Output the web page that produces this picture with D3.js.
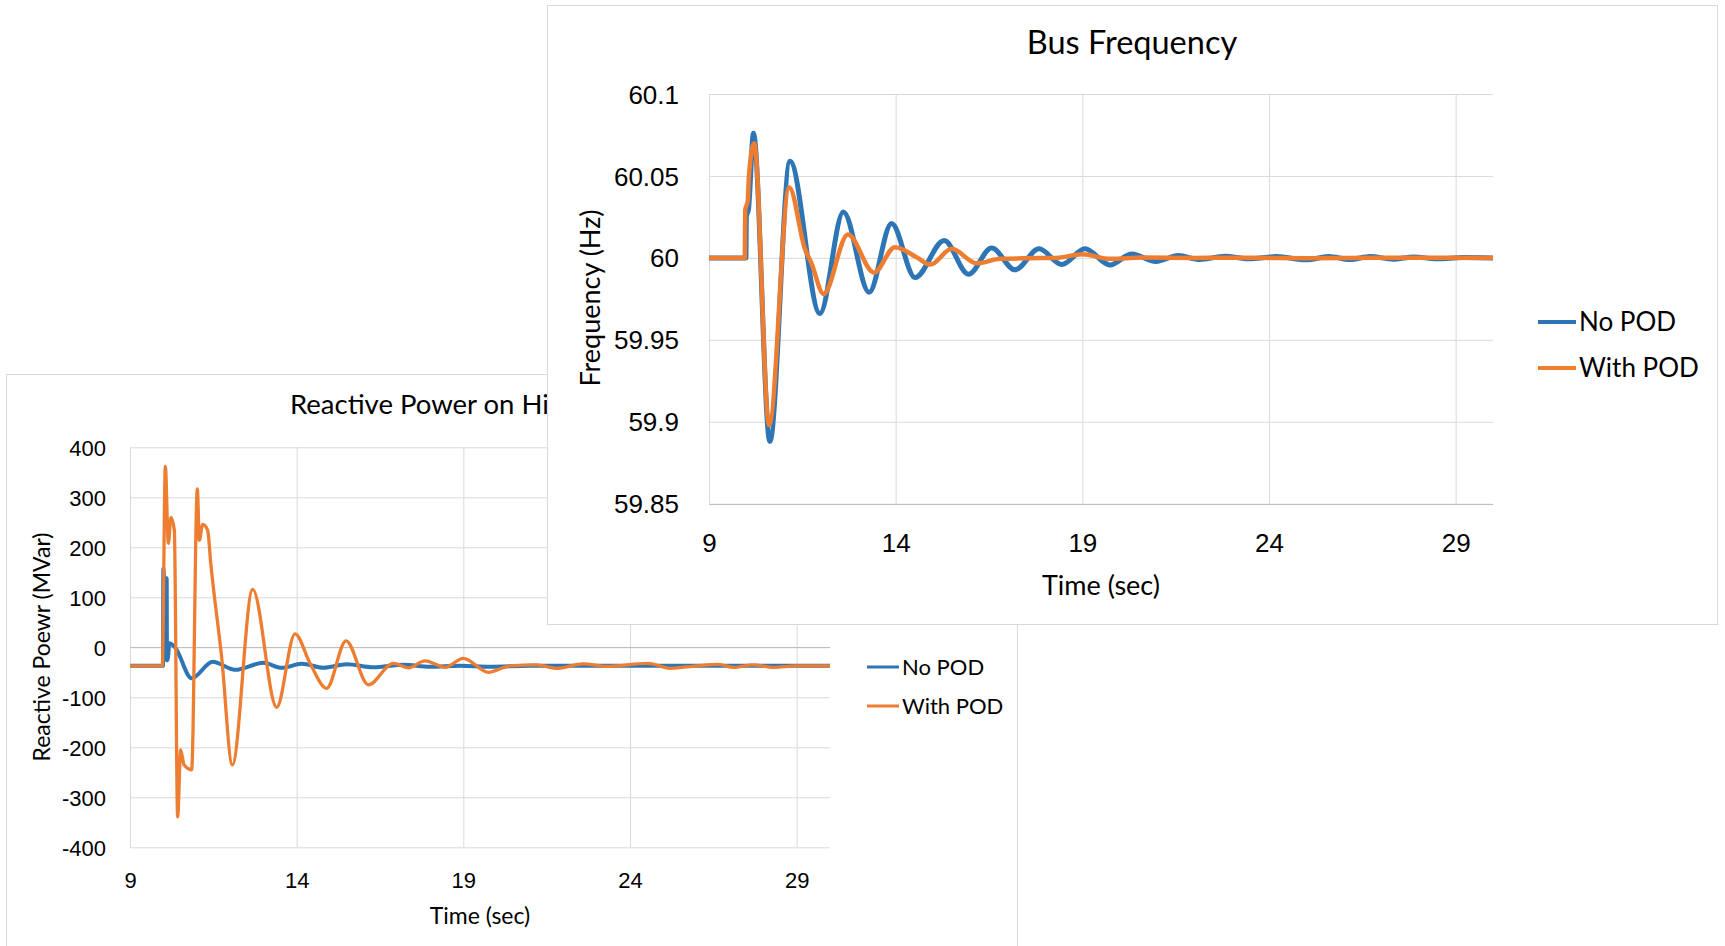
<!DOCTYPE html>
<html>
<head>
<meta charset="utf-8">
<script src="https://cdn.jsdelivr.net/npm/d3@7"></script>
<style>
  body { margin: 0; background: #fff; }
  svg { display: block; font-family: Lato, "Open Sans", sans-serif; }
</style>
</head>
<body>
<svg id="chart" width="1725" height="946"></svg>
<script>
const seriesNames = ["No POD", "With POD"];
const seriesColors = ["#2E75B6", "#ED7D31"];
const timeTicks = [9, 14, 19, 24, 29];
const freqTicks = [59.85, 59.9, 59.95, 60, 60.05, 60.1];
const powerTicks = [-400, -300, -200, -100, 0, 100, 200, 300, 400];

// reactive power (MVar), [time, value]
const powerNoPod = [
  [9, -37], [9.99, -37], [10.0, 157], [10.03, 138], [10.1, 138], [10.11, -26], [10.14, -20],
  [10.18, 8], [10.35, 0], [10.85, -62], [11.48, -29], [12.15, -45], [13.0, -31], [13.55, -41],
  [14.15, -33], [14.8, -41], [15.5, -34], [16.3, -40], [17.2, -35], [18.0, -39], [18.9, -37],
  [19.8, -39], [21, -37], [30, -37]
];
const powerWithPod = [
  [9, -37], [9.97, -37], [10.06, 362], [10.15, 208], [10.23, 260], [10.33, 234], [10.43, -339],
  [10.52, -205], [10.62, -235], [10.85, -245], [11.02, 317], [11.08, 214], [11.18, 246],
  [11.33, 234], [11.42, 170], [11.75, -20], [12.07, -235], [12.68, 116], [13.4, -120], [13.95, 27],
  [14.4, -32], [14.9, -82], [15.48, 13], [16.15, -75], [16.9, -32], [17.35, -41], [17.85, -27],
  [18.45, -40], [19.0, -22], [19.75, -50], [20.4, -37], [21.2, -35], [21.8, -42], [22.6, -33],
  [23.3, -38], [24.55, -32], [25.2, -42], [26.0, -37], [26.65, -34], [27.1, -40], [27.7, -35],
  [28.3, -40], [29, -37], [30, -37]
];

// bus frequency (Hz), [time, value]
const freqNoPod = [
  [9, 60], [9.99, 60], [10.0, 60.025], [10.06, 60.03], [10.08, 60.036], [10.19, 60.076],
  [10.63, 59.888], [11.17, 60.059], [11.97, 59.966], [12.6, 60.028], [13.29, 59.979],
  [13.89, 60.021], [14.52, 59.988], [15.3, 60.0106], [15.95, 59.99], [16.57, 60.006],
  [17.2, 59.9927], [17.84, 60.0055], [18.45, 59.996], [19.07, 60.0055], [19.74, 59.9957],
  [20.32, 60.0024], [20.97, 59.9978], [21.57, 60.0014], [22.15, 59.999], [22.82, 60.001],
  [23.45, 59.9994], [24.2, 60.0008], [25.0, 59.9988], [25.6, 60.0008], [26.17, 59.999],
  [26.71, 60.0008], [27.33, 59.9992], [27.87, 60.0006], [28.5, 59.9994], [29.2, 60.0002], [30, 60]
];
const freqWithPod = [
  [9, 60], [9.96, 60], [9.97, 60.029], [10.04, 60.035], [10.07, 60.05], [10.21, 60.07],
  [10.61, 59.898], [11.15, 60.043], [11.57, 60.0055], [11.74, 59.997], [12.07, 59.978],
  [12.72, 60.0143], [13.42, 59.991], [13.98, 60.0065], [14.56, 60.0004], [14.93, 59.9959],
  [15.5, 60.0055], [16.17, 59.9967], [16.8, 59.9994], [17.6, 59.9998], [18.3, 60.0],
  [19.0, 60.0022], [19.75, 59.9994], [20.6, 60.0002], [22, 60.0], [23.5, 60.0001],
  [25, 59.9998], [27, 60.0001], [30, 60]
];

const svg = d3.select("#chart");

function drawChart(c) {
  const g = svg.append("g");

  g.append("rect")
    .attr("x", c.frame[0]).attr("y", c.frame[1])
    .attr("width", c.frame[2]).attr("height", c.frame[3])
    .attr("fill", "#fff").attr("stroke", "#d9d9d9");

  const x = d3.scaleLinear().domain([9, 30]).range([c.plot[0], c.plot[2]]);
  const y = d3.scaleLinear().domain(c.yDomain).range([c.plot[3], c.plot[1]]);

  g.append("g")
    .attr("transform", `translate(${c.plot[0]},0)`)
    .call(d3.axisLeft(y).tickValues(c.yTicks).tickFormat(c.yFormat)
      .tickSize(-(c.plot[2] - c.plot[0])).tickPadding(c.yPad))
    .call(a => a.select(".domain").remove())
    .call(a => a.selectAll("line").attr("stroke", "#d9d9d9"))
    .call(a => a.selectAll("text").attr("fill", "#000")
      .style("font-size", c.tickSize + "px").attr("dy", "0.35em"));

  g.append("g")
    .attr("transform", `translate(0,${c.plot[3]})`)
    .call(d3.axisBottom(x).tickValues(timeTicks)
      .tickSize(-(c.plot[3] - c.plot[1])))
    .call(a => a.select(".domain").remove())
    .call(a => a.selectAll("line").attr("stroke", "#d9d9d9"))
    .call(a => a.selectAll("text").attr("fill", "#000")
      .style("font-size", c.tickSize + "px").attr("y", c.xPad).attr("dy", "0.35em"));

  // horizontal axis line
  const ay = Math.round(y(c.axisAt)) + 0.5;
  g.append("line")
    .attr("x1", c.plot[0]).attr("x2", c.plot[2])
    .attr("y1", ay).attr("y2", ay)
    .attr("stroke", "#bfbfbf");

  const line = d3.line()
    .x(d => x(d[0]))
    .y(d => y(d[1]))
    .curve(d3.curveMonotoneX);

  c.series.forEach((s, i) => {
    g.append("path")
      .datum(s)
      .attr("d", line)
      .attr("fill", "none")
      .attr("stroke", seriesColors[i])
      .attr("stroke-width", c.lineWidth[i])
      .attr("stroke-linejoin", "round");
  });

  g.append("text")
    .attr("x", c.title.x).attr("y", c.title.y)
    .attr("text-anchor", c.title.anchor)
    .style("font-size", c.title.size + "px")
    .text(c.title.text);

  g.append("text")
    .attr("x", c.xTitle.x).attr("y", c.xTitle.y)
    .attr("text-anchor", "middle").attr("dy", "0.35em")
    .style("font-size", c.xTitle.size + "px")
    .text("Time (sec)");

  g.append("text")
    .attr("transform", `translate(${c.yTitle.x},${c.yTitle.y}) rotate(-90)`)
    .attr("text-anchor", "middle").attr("dy", "0.35em")
    .style("font-size", c.yTitle.size + "px")
    .text(c.yTitle.text);

  seriesNames.forEach((name, i) => {
    const ly = c.legend.y[i];
    g.append("line")
      .attr("x1", c.legend.x).attr("x2", c.legend.x + c.legend.len)
      .attr("y1", ly).attr("y2", ly)
      .attr("stroke", seriesColors[i]).attr("stroke-width", c.legend.width);
    g.append("text")
      .attr("x", c.legend.x + c.legend.len + 3).attr("y", ly)
      .attr("dy", "0.35em")
      .style("font-size", c.legend.size + "px")
      .text(name);
  });
}

// back chart (title cut off by the front chart)
drawChart({
  frame: [6.5, 374.5, 1011, 600],
  plot: [130, 447.3, 830, 847.3],
  yDomain: [-400, 400],
  yTicks: powerTicks,
  yFormat: d => String(d),
  yPad: 24,
  xPad: 33,
  axisAt: 0,
  tickSize: 22,
  series: [powerNoPod, powerWithPod],
  lineWidth: [4, 3.3],
  title: { text: "Reactive Power on Hi", x: 290, y: 414, anchor: "start", size: 27.5 },
  xTitle: { x: 480, y: 916, size: 23 },
  yTitle: { text: "Reactive Poewr (MVar)", x: 42, y: 647, size: 23 },
  legend: { x: 867, len: 32, y: [667, 706], width: 3, size: 22 }
});

// front chart
drawChart({
  frame: [547.5, 5.5, 1170, 619],
  plot: [709, 94, 1493, 503.7],
  yDomain: [59.85, 60.1],
  yTicks: freqTicks,
  yFormat: d3.format(".2~f"),
  yPad: 30,
  xPad: 39,
  axisAt: 59.85,
  tickSize: 26,
  series: [freqNoPod, freqWithPod],
  lineWidth: [5, 4.5],
  title: { text: "Bus Frequency", x: 1132, y: 54, anchor: "middle", size: 32.5 },
  xTitle: { x: 1101, y: 586, size: 27 },
  yTitle: { text: "Frequency (Hz)", x: 591, y: 298, size: 27 },
  legend: { x: 1538, len: 38, y: [322, 368], width: 4, size: 26 }
});
</script>
</body>
</html>
